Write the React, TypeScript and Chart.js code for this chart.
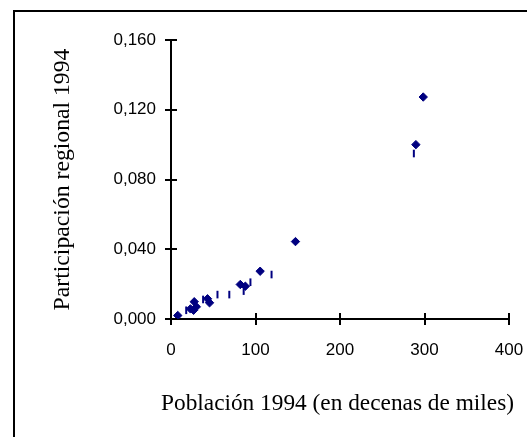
import React, { useEffect, useRef } from 'react';
import { Chart, registerables } from 'chart.js';

Chart.register(...registerables);

const diamondX = [8, 23, 26.7, 27.5, 30, 43.2, 45.6, 82, 88, 105.5, 147.3, 289.8, 298.5];
const diamondY = [0.002, 0.0058, 0.005, 0.0099, 0.007, 0.0116, 0.0093, 0.0198, 0.0188, 0.0274, 0.0444, 0.1, 0.1273];
const dashX = [18, 38, 55, 69, 86, 94, 119, 287.4];
const dashY = [0.005, 0.0112, 0.014, 0.014, 0.016, 0.0211, 0.0255, 0.0949];

const xMin = 0;
const xMax = 400;
const xStep = 100;
const yMin = 0;
const yMax = 0.16;
const yStep = 0.04;

const xTitle = 'Población 1994 (en decenas de miles)';
const yTitle = 'Participación regional 1994';

const NAVY = '#000080';
const SERIF = '"Liberation Serif", "Times New Roman", serif';
const SANS = '"Liberation Sans", Arial, sans-serif';

const framePlugin = {
  id: 'frame',
  beforeDraw(chart: any) {
    const ctx = chart.ctx;
    ctx.save();
    ctx.fillStyle = '#ffffff';
    ctx.fillRect(0, 0, chart.width, chart.height);
    ctx.strokeStyle = '#000000';
    ctx.lineWidth = 2;
    ctx.strokeRect(14, 11, 700, 700);
    ctx.restore();
  },
};

const innerTicksPlugin = {
  id: 'innerTicks',
  afterDatasetsDraw(chart: any) {
    const ctx = chart.ctx;
    const { left, right, bottom } = chart.chartArea;
    const xs = chart.scales.x;
    const ys = chart.scales.y;
    ctx.save();
    ctx.strokeStyle = '#000000';
    ctx.lineWidth = 2;
    ctx.beginPath();
    xs.ticks.forEach((t: any) => {
      const px = Math.round(xs.getPixelForValue(t.value));
      ctx.moveTo(px, bottom);
      ctx.lineTo(px, bottom - 6);
    });
    ys.ticks.forEach((t: any) => {
      const py = Math.round(ys.getPixelForValue(t.value));
      ctx.moveTo(left, py);
      ctx.lineTo(left + 6, py);
    });
    ctx.stroke();
    // x-axis title (drawn here so it may be wider than the plot area)
    ctx.fillStyle = '#000000';
    ctx.font = `23.5px ${SERIF}`;
    ctx.textAlign = 'center';
    ctx.textBaseline = 'middle';
    ctx.fillText(xTitle, (left + right) / 2 - 2.5, bottom + 84.5, 353);
    ctx.restore();
  },
};

export default function App() {
  const ref = useRef<HTMLCanvasElement | null>(null);

  useEffect(() => {
    document.body.style.margin = '0';
    const canvas = ref.current;
    if (!canvas) return;
    const chart = new Chart(canvas, {
      type: 'scatter',
      data: {
        datasets: [
          {
            label: 'diamonds',
            data: diamondX.map((x, i) => ({ x, y: diamondY[i] })),
            pointStyle: 'rectRot',
            pointRadius: 4.2,
            pointBackgroundColor: NAVY,
            pointBorderColor: NAVY,
            pointBorderWidth: 1,
          },
          {
            label: 'dashes',
            data: dashX.map((x, i) => ({ x, y: dashY[i] })),
            pointStyle: 'line',
            pointRotation: 90,
            pointRadius: 3.8,
            pointBorderColor: NAVY,
            pointBackgroundColor: NAVY,
            pointBorderWidth: 2,
          },
        ],
      },
      options: {
        animation: false,
        responsive: false,
        devicePixelRatio: 1,
        layout: { padding: { top: 40, right: 18, left: 0, bottom: 0 } },
        plugins: {
          legend: { display: false },
          tooltip: { enabled: false },
        },
        scales: {
          x: {
            type: 'linear',
            min: xMin,
            max: xMax,
            afterFit: (s: any) => {
              s.height = 118;
              s.paddingLeft = 0;
              s.paddingRight = 0;
            },
            ticks: {
              stepSize: xStep,
              color: '#000000',
              padding: 15,
              maxRotation: 0,
              font: { family: SANS, size: 17 },
            },
            grid: {
              display: true,
              drawOnChartArea: false,
              drawTicks: true,
              tickLength: 6,
              color: '#000000',
              lineWidth: 2,
            },
            border: { display: true, color: '#000000', width: 2 },
            title: { display: false, text: xTitle },
          },
          y: {
            type: 'linear',
            min: yMin,
            max: yMax,
            afterFit: (s: any) => {
              s.width = 171;
              s.paddingTop = 0;
              s.paddingBottom = 0;
            },
            ticks: {
              stepSize: yStep,
              color: '#000000',
              padding: 9,
              font: { family: SANS, size: 17 },
              callback: (v: any) => Number(v).toFixed(3).replace('.', ','),
            },
            grid: {
              display: true,
              drawOnChartArea: false,
              drawTicks: true,
              tickLength: 6,
              color: '#000000',
              lineWidth: 2,
            },
            border: { display: true, color: '#000000', width: 2 },
            title: {
              display: true,
              text: yTitle,
              color: '#000000',
              padding: { top: 49, bottom: 0 },
              font: { family: SERIF, size: 23.7, weight: 'normal' },
            },
          },
        },
      },
      plugins: [framePlugin, innerTicksPlugin],
    } as any);
    return () => chart.destroy();
  }, []);

  return (
    <div style={{ position: 'absolute', left: 0, top: 0, width: 527, height: 437 }}>
      <canvas ref={ref} width={527} height={437} />
    </div>
  );
}
